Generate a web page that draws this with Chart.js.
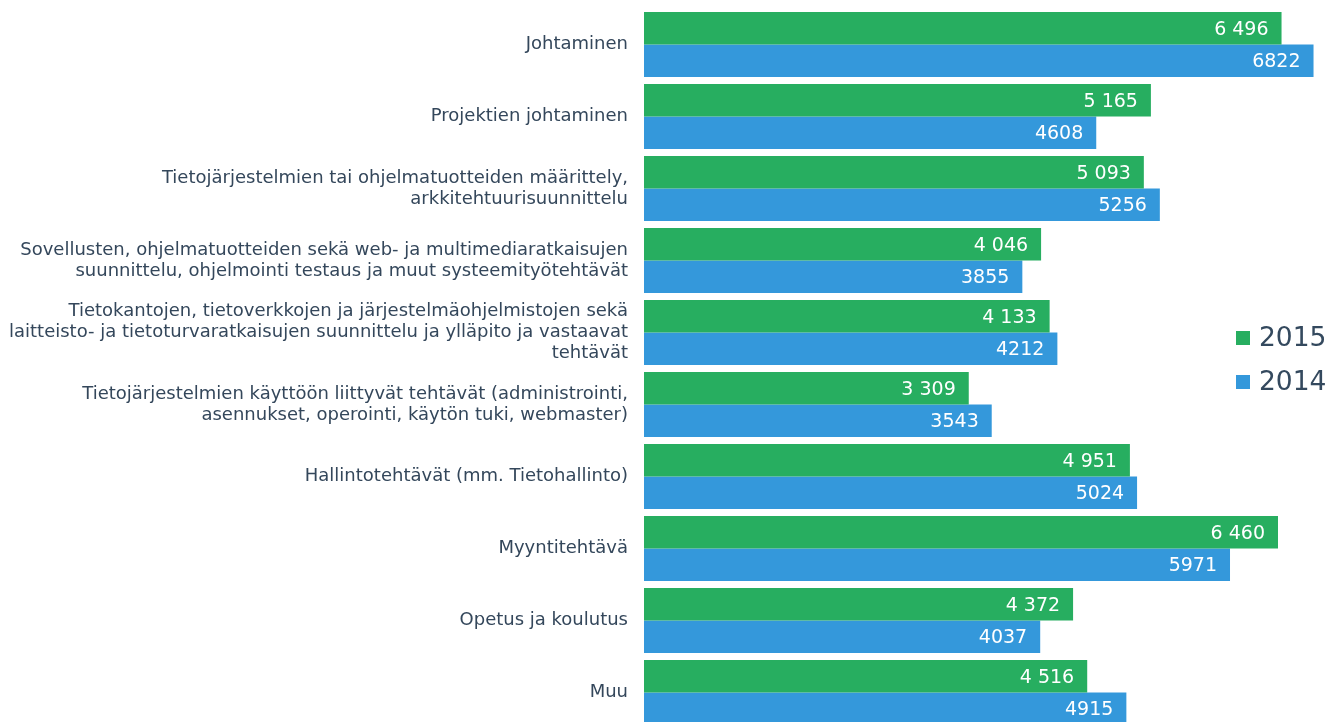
<!DOCTYPE html>
<html>
<head>
<meta charset="utf-8">
<script src="https://cdn.jsdelivr.net/npm/chart.js@4.4.1/dist/chart.umd.min.js"></script>
<style>
  html, body { margin: 0; padding: 0; background: #fff; overflow: hidden; }
  #wrap { position: relative; width: 1341px; height: 730px; }
  #legend { position: absolute; left: 1236px; top: 318px; font-family: "DejaVu Sans", Verdana, sans-serif; font-size: 26.5px; color: #34495e; }
  #legend div { height: 44px; line-height: 38px; white-space: nowrap; }
  #legend span.box { display: inline-block; width: 14px; height: 14px; margin-right: 9px; vertical-align: 1px; }
</style>
</head>
<body>
<div id="wrap">
  <canvas id="chart" width="1341" height="730"></canvas>
  <div id="legend"></div>
</div>
<script>
// kategoriat (monirivisinä)
var categories = [
    ['Johtaminen'],
    ['Projektien johtaminen'],
    ['Tietojärjestelmien tai ohjelmatuotteiden määrittely,', 'arkkitehtuurisuunnittelu'],
    ['Sovellusten, ohjelmatuotteiden sekä web- ja multimediaratkaisujen', 'suunnittelu, ohjelmointi testaus ja muut systeemityötehtävät'],
    ['Tietokantojen, tietoverkkojen ja järjestelmäohjelmistojen sekä', 'laitteisto- ja tietoturvaratkaisujen suunnittelu ja ylläpito ja vastaavat', 'tehtävät'],
    ['Tietojärjestelmien käyttöön liittyvät tehtävät (administrointi,', 'asennukset, operointi, käytön tuki, webmaster)'],
    ['Hallintotehtävät (mm. Tietohallinto)'],
    ['Myyntitehtävä'],
    ['Opetus ja koulutus'],
    ['Muu']
];

var values2015 = [6496, 5165, 5093, 4046, 4133, 3309, 4951, 6460, 4372, 4516];
var values2014 = [6822, 4608, 5256, 3855, 4212, 3543, 5024, 5971, 4037, 4915];

var seriesNames = ['2015', '2014'];
var seriesColors = ['#27ae60', '#3498db'];

function withSpaces(v) {
    return String(v).replace(/\B(?=(\d{3})+(?!\d))/g, ' ');
}

// arvot palkkien sisälle
var valueLabels = {
    id: 'valueLabels',
    afterDatasetsDraw: function (chart) {
        var ctx = chart.ctx;
        ctx.save();
        ctx.font = '19px "DejaVu Sans", Verdana, sans-serif';
        ctx.fillStyle = '#ffffff';
        ctx.textAlign = 'right';
        ctx.textBaseline = 'middle';
        chart.data.datasets.forEach(function (ds, i) {
            var meta = chart.getDatasetMeta(i);
            meta.data.forEach(function (bar, j) {
                var v = ds.data[j];
                var txt = i === 0 ? withSpaces(v) : String(v);
                ctx.fillText(txt, bar.x - 13, bar.y + 1.5);
            });
        });
        ctx.restore();
    }
};

var ctx = document.getElementById('chart');
var myChart = new Chart(ctx, {
    type: 'bar',
    data: {
        labels: categories,
        datasets: [{
            label: seriesNames[0],
            data: values2015,
            backgroundColor: seriesColors[0],
            categoryPercentage: 0.9,
            barPercentage: 1.0
        }, {
            label: seriesNames[1],
            data: values2014,
            backgroundColor: seriesColors[1],
            categoryPercentage: 0.9,
            barPercentage: 1.0
        }]
    },
    options: {
        indexAxis: 'y',
        responsive: false,
        animation: false,
        layout: { padding: { top: 8.5, bottom: 1.5, right: 10, left: 0 } },
        scales: {
            x: {
                display: false,
                min: 0,
                max: 7000
            },
            y: {
                grid: { display: false, drawTicks: false },
                border: { display: false },
                ticks: {
                    color: '#34475b',
                    padding: 16,
                    font: { family: '"DejaVu Sans", Verdana, sans-serif', size: 18, lineHeight: 1.15 }
                },
                afterFit: function (scale) {
                    // akselin leveys ja ei ylimääräistä pystytäytettä
                    scale.width = 644;
                    scale.paddingTop = 0;
                    scale.paddingBottom = 0;
                }
            }
        },
        plugins: {
            legend: { display: false },
            tooltip: { enabled: false }
        }
    },
    plugins: [valueLabels]
});

// HTML-selite
var legend = document.getElementById('legend');
seriesNames.forEach(function (name, i) {
    var row = document.createElement('div');
    var box = document.createElement('span');
    box.className = 'box';
    box.style.background = seriesColors[i];
    row.appendChild(box);
    row.appendChild(document.createTextNode(name));
    legend.appendChild(row);
});
</script>
</body>
</html>
